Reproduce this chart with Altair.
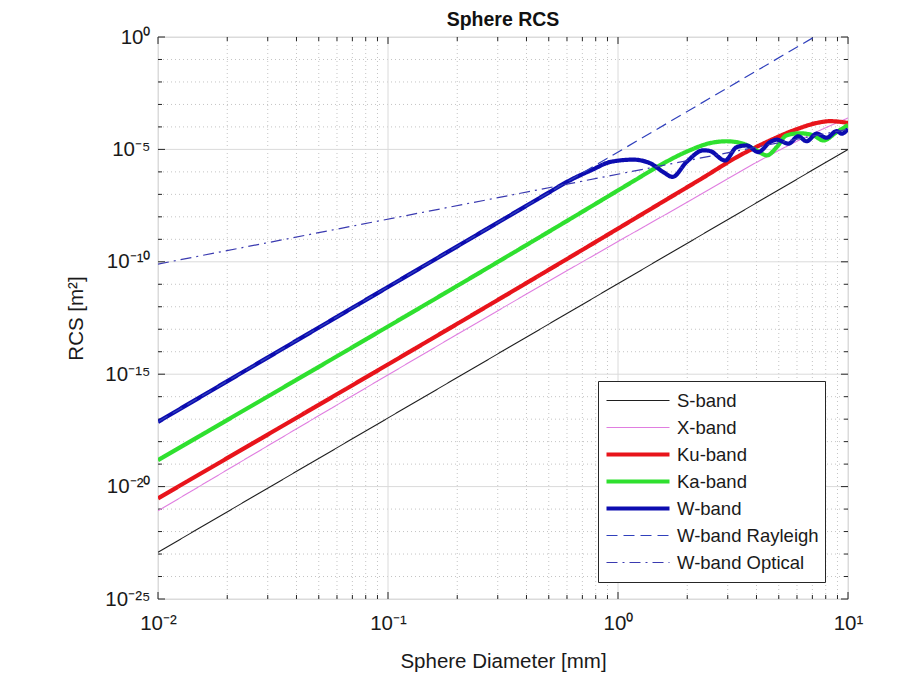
import math
import altair as alt
import pandas as pd

# ---------------- data ----------------
series_names = ["S-band", "X-band", "Ku-band", "Ka-band", "W-band",
                "W-band Rayleigh", "W-band Optical"]

s_d = [0.01, 10.0]
s_rcs = [1.2e-23, 1.0e-5]

x_d = [0.01, 1.0, 2.12, 4.14, 6.4, 10.0]
x_rcs = [8.3e-22, 8.0e-10, 6.3e-8, 3.2e-6, 3.2e-5, 2.5e-4]

ku_d = [0.01, 1.0, 1.68, 2.35, 3.28, 4.58, 5.98, 7.31, 8.36, 9.2, 10.0]
ku_rcs = [3.0e-21, 3.0e-9, 7.2e-8, 5.6e-7, 4.5e-6, 2.5e-5, 7.9e-5,
          1.5e-4, 1.8e-4, 1.7e-4, 1.5e-4]

ka_d = [0.01, 1.0, 1.2, 1.5, 1.86, 2.05, 2.51, 2.97, 3.5, 4.0, 4.44,
        4.9, 5.4, 6.18, 7.06, 7.82, 8.93, 10.0]
ka_rcs = [1.5e-19, 1.5e-7, 4.6e-7, 1.8e-6, 5.8e-6, 9.1e-6, 1.9e-5,
          2.3e-5, 1.8e-5, 9.1e-6, 5.4e-6, 1.26e-5, 4.2e-5, 5.2e-5,
          4.2e-5, 2.5e-5, 5.9e-5, 1.2e-4]

w_d = [0.01, 0.1, 0.5, 0.597, 0.78, 0.923, 1.165, 1.377, 1.574, 1.726,
       1.986, 2.35, 2.51, 2.92, 3.28, 3.63, 4.07, 4.58, 4.9, 5.51, 6.08,
       6.61, 7.31, 8.07, 8.93, 9.4, 10.0]
w_rcs = [7.6e-18, 7.6e-12, 1.2e-7, 3.5e-7, 1.3e-6, 2.75e-6, 3.5e-6,
         2.45e-6, 9.8e-7, 6.0e-7, 2.75e-6, 9.1e-6, 8.5e-6, 3.2e-6,
         1.26e-5, 1.5e-5, 7.6e-6, 2.1e-5, 2.7e-5, 1.8e-5, 3.8e-5,
         2.3e-5, 5.0e-5, 3.3e-5, 6.5e-5, 5.0e-5, 8.3e-5]

ray_d = [0.01, 7.13]
ray_rcs = [7.6e-18, 1.0]

opt_d = [0.01, 10.0]
opt_rcs = [7.9e-11, 7.9e-5]

x_tick_values = [0.01, 0.1, 1.0, 10.0]
x_tick_labels = ["10⁻²", "10⁻¹", "10⁰", "10¹"]
y_tick_values = [1e-25, 1e-20, 1e-15, 1e-10, 1e-5, 1e0]
y_tick_labels = ["10⁻²⁵", "10⁻²⁰", "10⁻¹⁵", "10⁻¹⁰", "10⁻⁵", "10⁰"]

x_minor = [k * 10.0 ** e for e in (-2, -1, 0) for k in range(2, 10)]
y_decades = [10.0 ** e for e in range(-25, 1)]
y_minor = [v for v in y_decades if v not in y_tick_values]

# ---------------- build table ----------------
rows = []
for name, ds, rs in zip(series_names,
                        [s_d, x_d, ku_d, ka_d, w_d, ray_d, opt_d],
                        [s_rcs, x_rcs, ku_rcs, ka_rcs, w_rcs, ray_rcs, opt_rcs]):
    for i, (d, r) in enumerate(zip(ds, rs)):
        rows.append({"series": name, "d": d, "rcs": r, "i": i})
df = pd.DataFrame(rows)

W, H = 690, 562
FONT = "Liberation Sans"
TXT = "#1a1a1a"

colors = ["#1f1f1f", "#e07ee0", "#e8141b", "#2fe02f", "#0c0cb0", "#3040bc", "#3a3ab0"]
widths = [1.1, 1.1, 4.2, 4.2, 4.2, 1.2, 1.2]
dashes = [[1, 0], [1, 0], [1, 0], [1, 0], [1, 0], [11, 6], [11, 5, 2, 5]]

xscale = alt.Scale(type="log", domain=[0.01, 10], nice=False)
yscale = alt.Scale(type="log", domain=[1e-25, 1.0], nice=False)


def expr_map(vals, labels, key):
    parts = []
    for v, l in zip(vals[:-1], labels[:-1]):
        parts.append(f"abs({key} - ({round(math.log10(v))})) < 0.5 ? '{l}' : ")
    return "".join(parts) + f"'{labels[-1]}'"


x_expr = expr_map(x_tick_values, x_tick_labels, "log(datum.value)/LN10")
y_expr = expr_map(y_tick_values, y_tick_labels, "log(datum.value)/LN10")

x_axis = alt.Axis(values=x_tick_values, labelExpr=x_expr, title="Sphere Diameter [mm]",
                  grid=False, ticks=False, domain=False,
                  labelFont=FONT, labelFontSize=20.5, labelColor=TXT,
                  labelPadding=14, labelAlign="center", labelFlush=False,
                  titleFont=FONT, titleFontSize=20.5, titleFontWeight="normal",
                  titleColor=TXT, titlePadding=18)
y_axis = alt.Axis(values=y_tick_values, labelExpr=y_expr, title="RCS [m²]",
                  grid=False, ticks=False, domain=False,
                  labelFont=FONT, labelFontSize=20.5, labelColor=TXT,
                  labelPadding=8, labelFlush=False,
                  titleFont=FONT, titleFontSize=20.5, titleFontWeight="normal",
                  titleColor=TXT, titlePadding=18)

legend = alt.Legend(
    orient="none", legendX=440, legendY=344, title=None,
    symbolType="stroke", symbolSize=3969, clipHeight=27,
    labelFont=FONT, labelFontSize=18.5, labelColor=TXT,
    labelOffset=5, strokeColor="#262626", fillColor="white",
    padding=6, rowPadding=0, symbolOffset=0,
)

gx_major = pd.DataFrame({"v": x_tick_values})
gx_minor = pd.DataFrame({"v": x_minor})
gy_major = pd.DataFrame({"v": y_tick_values})
gy_minor = pd.DataFrame({"v": y_minor})


def X(field):
    return alt.X(field, scale=xscale, axis=x_axis)


def Y(field):
    return alt.Y(field, scale=yscale, axis=y_axis)


grid_x_major = alt.Chart(gx_major).mark_rule(color="#dadada", strokeWidth=1).encode(x=X("v:Q"))
grid_x_minor = alt.Chart(gx_minor).mark_rule(color="#c4c4c4", strokeWidth=1, strokeDash=[1, 3]).encode(x=X("v:Q"))
grid_y_major = alt.Chart(gy_major).mark_rule(color="#dadada", strokeWidth=1).encode(y=Y("v:Q"))
grid_y_minor = alt.Chart(gy_minor).mark_rule(color="#c4c4c4", strokeWidth=1, strokeDash=[1, 3]).encode(y=Y("v:Q"))

tick_color = "#262626"


def xticks(data, ln):
    b = alt.Chart(data).mark_rule(color=tick_color, strokeWidth=1).encode(
        x=X("v:Q"), y=alt.value(H), y2=alt.value(H - ln))
    t = alt.Chart(data).mark_rule(color=tick_color, strokeWidth=1).encode(
        x=X("v:Q"), y=alt.value(0), y2=alt.value(ln))
    return [b, t]


def yticks(data, ln):
    l = alt.Chart(data).mark_rule(color=tick_color, strokeWidth=1).encode(
        y=Y("v:Q"), x=alt.value(0), x2=alt.value(ln))
    r = alt.Chart(data).mark_rule(color=tick_color, strokeWidth=1).encode(
        y=Y("v:Q"), x=alt.value(W), x2=alt.value(W - ln))
    return [l, r]


lines = alt.Chart(df).mark_line(clip=True, strokeCap="butt", strokeJoin="round",
                                interpolate="monotone").encode(
    x=X("d:Q"),
    y=Y("rcs:Q"),
    color=alt.Color("series:N", scale=alt.Scale(domain=series_names, range=colors), legend=legend),
    strokeWidth=alt.StrokeWidth("series:N",
                                scale=alt.Scale(type="ordinal", domain=series_names, range=widths),
                                legend=legend),
    strokeDash=alt.StrokeDash("series:N", scale=alt.Scale(domain=series_names, range=dashes), legend=legend),
    order=alt.Order("i:Q"),
)

layers = [grid_x_minor, grid_y_minor, grid_x_major, grid_y_major]
layers += xticks(gx_major, 7) + xticks(gx_minor, 4)
layers += yticks(gy_major, 7) + yticks(gy_minor, 4)
layers += [lines]

chart = alt.layer(*layers).properties(
    width=W, height=H,
    title=alt.TitleParams("Sphere RCS", font=FONT, fontSize=19.5, fontWeight="bold",
                          color="#111111", anchor="middle", offset=-3),
    autosize=alt.AutoSizeParams(type="none"),
    padding={"left": 150, "top": 29, "right": 40, "bottom": 80},
).configure_view(stroke="#262626", strokeWidth=1.2).configure(background="white")

chart.save("out.html", embed_options={"renderer": "svg", "actions": False})
